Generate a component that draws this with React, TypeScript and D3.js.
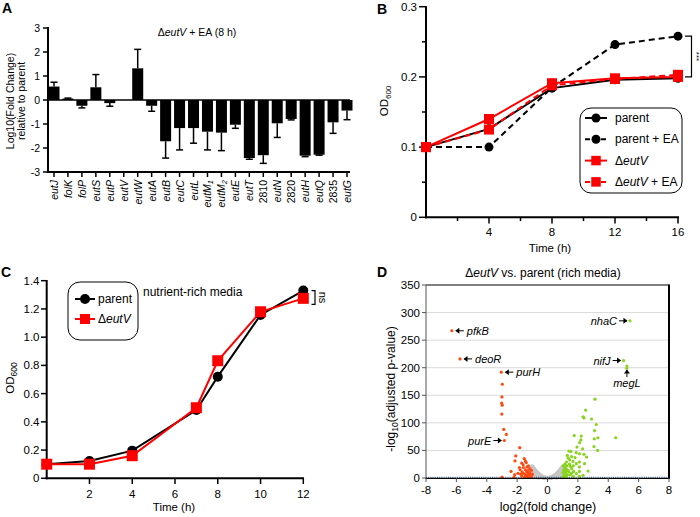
import React from 'react';
import * as d3 from 'd3';

const FONT = 'Liberation Sans, Arial, Helvetica, sans-serif';

// ---------- Panel A data ----------
const geneLabels = ['eutJ','folK','folP','eutS','eutP','eutV','eutW','eutA','eutB','eutC','eutL','eutM1','eutM2','eutE','eutT','2810','eutN','2820','eutH','eutQ','2835','eutG'];
const foldChange = [0.56,0.06,-0.24,0.53,-0.13,0,1.32,-0.24,-1.72,-1.17,-1.17,-1.32,-1.36,-1.03,-2.42,-2.3,-0.97,-0.79,-2.32,-2.28,-0.93,-0.44];
const foldErr = [0.18,0.02,0.09,0.53,0.13,0,0.79,0.23,0.7,0.91,0.63,0.76,0.75,0.15,0.05,0.34,0.59,0.04,0.04,0.02,0.46,0.38];
const yTicksA = [-3,-2,-1,0,1,2,3];

// ---------- Panel B data ----------
const timeB = [0,4,8,12,16];
const parentB = [0.1,0.126,0.184,0.196,0.198];
const parentEAB = [0.1,0.1,0.185,0.246,0.258];
const eutVB = [0.1,0.14,0.191,0.198,0.2];
const eutVEAB = [0.1,0.125,0.188,0.197,0.203];
const yTicksB = [0,0.1,0.2,0.3];
const yMinorB = [0.05,0.15,0.25];
const xTicksB = [4,8,12,16];
const xMinorB = [2,6,10,14];

// ---------- Panel C data ----------
const timeC = [0,2,4,7,8,10,12];
const parentC = [0.1,0.123,0.196,0.484,0.72,1.157,1.33];
const eutVC = [0.1,0.1,0.16,0.5,0.833,1.18,1.275];
const yTicksC = [0,0.2,0.4,0.6,0.8,1.0,1.2,1.4];
const xTicksC = [2,4,6,8,10,12];

// ---------- Panel D data ----------
const xTicksD = [-8,-6,-4,-2,0,2,4,6,8];
const yTicksD = [0,50,100,150,200,250,300,350];
const grayPts: [number, number][] = [
  [-1.25,12],[-1.2,16],[-1.15,18],[-1.1,20],[-1.05,19],[-1.0,21],[-0.95,18],[-0.9,17],[-0.85,15],[-0.8,13],
  [-0.75,12],[-0.7,10],[-0.65,9],[-0.6,7.5],[-0.55,6],[-0.5,5],[-0.45,4],[-0.4,3],[-0.35,2.2],[-0.3,1.6],
  [-0.25,1],[-0.2,0.6],[-0.15,0.3],[-0.1,0.1],[-1.1,12],[-1.0,14],[-0.9,10],[-0.8,8],[-0.7,6],[-0.6,4],
  [-0.5,2.5],[-0.4,1.5],[-1.0,8],[-0.9,5],[-0.8,3],[-0.7,2],[-1.1,5],[-1.2,8],[-1.0,3],[-0.6,1],[-0.9,1.5],[-1.2,3],
  [1.2,14],[1.15,18],[1.1,20],[1.05,19],[1.0,21],[0.95,18],[0.9,17],[0.85,15],[0.8,13],[0.75,12],
  [0.7,10],[0.65,9],[0.6,7.5],[0.55,6],[0.5,5],[0.45,4],[0.4,3],[0.35,2.2],[0.3,1.6],[0.25,1],
  [0.2,0.6],[0.15,0.3],[0.1,0.1],[0.05,0],[1.1,12],[1.0,14],[0.9,10],[0.8,8],[0.7,6],[0.6,4],
  [0.5,2.5],[0.4,1.5],[1.0,8],[0.9,5],[0.8,3],[0.7,2],[1.1,5],[1.0,3],[0.6,1],[0.9,1.5],[1.15,8],[1.15,3],
];
const redPts: [number, number][] = [
  [-6.3,267],[-5.76,216],[-3.04,192],[-2.97,170],[-3.0,147],[-3.02,136],[-2.98,132],[-3.01,116],[-2.88,88],[-2.71,79],
  [-2.84,68],[-1.83,55],[-2.09,40],[-2.14,31],[-1.53,35],[-1.46,31],[-1.4,28],[-1.7,27],[-1.85,19],[-1.59,19],
  [-1.26,22],[-1.17,17],[-1.46,15],[-1.8,15],[-1.67,11],[-1.37,11.5],[-1.06,14],[-1.94,8.5],[-1.57,8],[-1.29,6.5],
  [-1.0,7],[-1.4,3.5],[-1.7,3.5],[-2.16,6],[-1.13,3.5],[-3.0,1.5],[-2.2,1],[-1.2,10],[-1.1,1.5],[-1.5,1.5],
  [-1.3,13],[-1.05,4],[-1.25,2],[-1.35,20],[-1.6,24],[-1.15,8],[-1.45,6],[-1.75,7],[-2.4,12],
];
const greenPts: [number, number][] = [
  [5.43,285],[5.01,213],[5.23,203],[5.22,199],
  [3.13,143],[2.51,123],[2.34,111],[2.4,109],[2.9,107],[3.21,97],[3.1,86],[1.76,77],[2.22,76],[4.49,73],
  [3.32,73],[3.08,71],[2.2,69],[2.12,64],[3.06,57],[3.3,50],[1.94,56],[2.31,53],[1.41,49],[1.54,48],
  [1.89,46],[2.1,44],[2.4,43],[1.59,39],[1.81,37],[1.37,36],[2.57,38],[1.46,33],[1.68,30],[2.1,29],
  [1.25,29],[1.9,26],[2.44,26],[1.28,22],[1.5,21],[1.13,19],[2.1,20],[1.24,16],[1.6,17],[1.07,14],
  [1.4,11],[1.72,12],[2.1,12],[2.67,12.5],[1.1,8],[1.5,6],[1.9,8],[2.34,5],[1.18,3],[1.7,3],
  [2.1,3],[1.04,3],[1.15,25],[1.2,11],[1.05,22],[1.3,6],[1.12,5],[1.35,14],[1.02,10],[1.25,1.5],
  [1.6,9],[1.45,25],[1.3,41],[1.7,22],
];

const arrowHead = (x: number, y: number, dir: 'left' | 'right' | 'up') => {
  const s = 3;
  if (dir === 'left') return `M${x},${y} L${x + s + 1},${y - s} L${x + s + 1},${y + s} Z`;
  if (dir === 'right') return `M${x},${y} L${x - s - 1},${y - s} L${x - s - 1},${y + s} Z`;
  return `M${x},${y} L${x - s},${y + s + 1} L${x + s},${y + s + 1} Z`;
};

const GeneLabel = ({ name }: { name: string }) => {
  const isNum = /^\d+$/.test(name);
  const m = name.match(/^(eutM)(\d)$/);
  if (m) {
    return (
      <>
        <tspan fontStyle="italic">{m[1]}</tspan>
        <tspan fontStyle="italic" fontSize={7.5} dy={3}>{m[2]}</tspan>
      </>
    );
  }
  return <tspan fontStyle={isNum ? 'normal' : 'italic'}>{name}</tspan>;
};

const Marker = ({ kind, x, y, color, size }: { kind: 'circle' | 'square'; x: number; y: number; color: string; size: number }) =>
  kind === 'circle' ? (
    <circle cx={x} cy={y} r={size / 2} fill={color} />
  ) : (
    <rect x={x - size / 2} y={y - size / 2} width={size} height={size} fill={color} />
  );

export default function App() {
  // ===== Panel A =====
  const xA = d3.scalePoint<string>().domain(geneLabels).range([54, 347]);
  const yA = d3.scaleLinear().domain([-3, 3]).range([172, 28]);
  const barW = 11;

  // ===== Panel B =====
  const xB = d3.scaleLinear().domain([0, 16]).range([426, 678]);
  const yB = d3.scaleLinear().domain([0, 0.3]).range([217.3, 6.7]);
  const lineB = (vals: number[]) =>
    d3.line<number>().x((_, i) => xB(timeB[i])).y((v) => yB(v))(vals) as string;
  const seriesB = [
    { name: 'parent', vals: parentB, color: '#000', dash: undefined as string | undefined, kind: 'circle' as const },
    { name: 'parent + EA', vals: parentEAB, color: '#000', dash: '6,4', kind: 'circle' as const },
    { name: 'eutV', vals: eutVB, color: '#ff0000', dash: undefined, kind: 'square' as const },
    { name: 'eutV + EA', vals: eutVEAB, color: '#ff0000', dash: '6,4', kind: 'square' as const },
  ];

  // ===== Panel C =====
  const xC = d3.scaleLinear().domain([0, 12]).range([46.7, 303.3]);
  const yC = d3.scaleLinear().domain([0, 1.4]).range([478.3, 280.7]);
  const lineC = (vals: number[]) =>
    d3.line<number>().x((_, i) => xC(timeC[i])).y((v) => yC(v))(vals) as string;

  // ===== Panel D =====
  const xD = d3.scaleLinear().domain([-8, 8]).range([426, 669]);
  const yD = d3.scaleLinear().domain([0, 350]).range([478, 285]);
  const red = '#ff4a12';
  const green = '#86d41c';

  const pfk = redPts[0], deo = redPts[1], purH = redPts[2], purE = redPts[10];
  const nha = greenPts[0], nif = greenPts[1], meg = greenPts[2];

  return (
    <svg width={700} height={517} style={{ position: 'absolute', left: 0, top: 0, background: '#fff' }} fontFamily={FONT}>
      <rect x={0} y={0} width={700} height={517} fill="#fff" />

      {/* ================= A ================= */}
      <text x={2} y={13} fontSize={14} fontWeight="bold">A</text>
      <text x={197} y={36} fontSize={10.5} textAnchor="middle">
        <tspan>Δ</tspan><tspan fontStyle="italic">eutV</tspan><tspan> + EA (8 h)</tspan>
      </text>
      <g transform="translate(14,101) rotate(-90)">
        <text textAnchor="middle" fontSize={10.5}>Log10(Fold Change)</text>
        <text textAnchor="middle" fontSize={10.5} y={10.5}>relative to parent</text>
      </g>
      {geneLabels.map((g, i) => {
        const v = foldChange[i];
        if (v === 0) return null;
        const cx = xA(g)!;
        const y0 = yA(0), y1 = yA(v);
        const ye = yA(v + Math.sign(v) * foldErr[i]);
        return (
          <g key={g}>
            <rect x={cx - barW / 2} y={Math.min(y0, y1)} width={barW} height={Math.abs(y1 - y0)} fill="#000" />
            <line x1={cx} x2={cx} y1={y1} y2={ye} stroke="#000" strokeWidth={1.5} />
            <line x1={cx - 3.5} x2={cx + 3.5} y1={ye} y2={ye} stroke="#000" strokeWidth={1.5} />
          </g>
        );
      })}
      <line x1={48} x2={350} y1={yA(0)} y2={yA(0)} stroke="#000" strokeWidth={1.5} />
      <line x1={48} x2={48} y1={yA(3) - 1} y2={yA(-3) + 1} stroke="#000" strokeWidth={2} />
      <line x1={47} x2={350} y1={yA(-3)} y2={yA(-3)} stroke="#000" strokeWidth={2} />
      {yTicksA.map((t) => (
        <g key={t}>
          <line x1={43} x2={48} y1={yA(t)} y2={yA(t)} stroke="#000" strokeWidth={1.5} />
          <text x={40} y={yA(t)} fontSize={10.5} textAnchor="end" dominantBaseline="central">{t}</text>
        </g>
      ))}
      {geneLabels.map((g) => (
        <g key={'t' + g}>
          <line x1={xA(g)!} x2={xA(g)!} y1={172} y2={177} stroke="#000" strokeWidth={1.5} />
          <text transform={`translate(${xA(g)!},180) rotate(-90)`} fontSize={10.5} textAnchor="end" dominantBaseline="central">
            <GeneLabel name={g} />
          </text>
        </g>
      ))}

      {/* ================= B ================= */}
      <text x={377} y={14} fontSize={14} fontWeight="bold">B</text>
      {yTicksB.map((t) => (
        <g key={t}>
          <line x1={419} x2={426} y1={yB(t)} y2={yB(t)} stroke="#000" strokeWidth={1.5} />
          <text x={417} y={yB(t)} fontSize={11.5} textAnchor="end" dominantBaseline="central">{t}</text>
        </g>
      ))}
      {yMinorB.map((t) => (
        <line key={t} x1={422} x2={426} y1={yB(t)} y2={yB(t)} stroke="#000" strokeWidth={1.5} />
      ))}
      {xTicksB.map((t) => (
        <g key={t}>
          <line x1={xB(t)} x2={xB(t)} y1={217.3} y2={223.5} stroke="#000" strokeWidth={1.5} />
          <text x={xB(t)} y={236} fontSize={11.5} textAnchor="middle">{t}</text>
        </g>
      ))}
      {xMinorB.map((t) => (
        <line key={t} x1={xB(t)} x2={xB(t)} y1={217.3} y2={221} stroke="#000" strokeWidth={1.5} />
      ))}
      <line x1={426} x2={426} y1={6} y2={218.3} stroke="#000" strokeWidth={2} />
      <line x1={425} x2={679} y1={217.3} y2={217.3} stroke="#000" strokeWidth={2} />
      <text x={550} y={252} fontSize={11.5} textAnchor="middle">Time (h)</text>
      <text transform="translate(388,101) rotate(-90)" fontSize={11.5} textAnchor="middle">
        <tspan>OD</tspan><tspan fontSize={8} dy={3}>600</tspan>
      </text>
      {seriesB.map((s) => (
        <path key={s.name} d={lineB(s.vals)} fill="none" stroke={s.color} strokeWidth={2} strokeDasharray={s.dash} />
      ))}
      {seriesB.map((s) =>
        s.vals.map((v, i) => (
          <Marker key={s.name + i} kind={s.kind} x={xB(timeB[i])} y={yB(v)} color={s.color} size={s.kind === 'circle' ? 9 : 10} />
        ))
      )}
      {/* significance bracket */}
      <path d={`M685,${yB(0.258)} H691.5 V${yB(0.2)} H685`} fill="none" stroke="#000" strokeWidth={1.2} />
      <text transform={`translate(696,${(yB(0.258) + yB(0.2)) / 2}) rotate(90)`} fontSize={8} textAnchor="middle" dominantBaseline="central">***</text>
      {/* legend B */}
      <rect x={580} y={108} width={102} height={85} rx={11} fill="#fff" stroke="#000" strokeWidth={1} />
      {seriesB.map((s, i) => {
        const ly = 118 + i * 21.3;
        return (
          <g key={'lg' + s.name}>
            <line x1={585} x2={607} y1={ly} y2={ly} stroke={s.color} strokeWidth={2} strokeDasharray={s.dash ? '5,3' : undefined} />
            <Marker kind={s.kind} x={596} y={ly} color={s.color} size={s.kind === 'circle' ? 9 : 9.5} />
            <text x={615} y={ly} fontSize={12} dominantBaseline="central">
              {s.name.startsWith('eutV') ? (
                <>
                  <tspan>Δ</tspan><tspan fontStyle="italic">eutV</tspan><tspan>{s.name.slice(4)}</tspan>
                </>
              ) : (
                s.name
              )}
            </text>
          </g>
        );
      })}

      {/* ================= C ================= */}
      <text x={1} y={277} fontSize={14} fontWeight="bold">C</text>
      {yTicksC.map((t) => (
        <g key={t}>
          <line x1={41} x2={46.7} y1={yC(t)} y2={yC(t)} stroke="#000" strokeWidth={1.5} />
          <text x={39.5} y={yC(t)} fontSize={11.5} textAnchor="end" dominantBaseline="central">{t === 0 ? '0' : t.toFixed(1)}</text>
        </g>
      ))}
      {xTicksC.map((t) => (
        <g key={t}>
          <line x1={xC(t)} x2={xC(t)} y1={478.3} y2={484} stroke="#000" strokeWidth={1.5} />
          <text x={xC(t)} y={497.5} fontSize={11.5} textAnchor="middle">{t}</text>
        </g>
      ))}
      <line x1={46.7} x2={46.7} y1={280} y2={479.3} stroke="#000" strokeWidth={2} />
      <line x1={45.7} x2={304} y1={478.3} y2={478.3} stroke="#000" strokeWidth={2} />
      <text x={174} y={511} fontSize={11.5} textAnchor="middle">Time (h)</text>
      <text transform="translate(14,378) rotate(-90)" fontSize={11.5} textAnchor="middle">
        <tspan>OD</tspan><tspan fontSize={8.5} dy={3}>600</tspan>
      </text>
      <path d={lineC(parentC)} fill="none" stroke="#000" strokeWidth={2} />
      <path d={lineC(eutVC)} fill="none" stroke="#ff0000" strokeWidth={2} />
      {parentC.map((v, i) => (
        <Marker key={'pc' + i} kind="circle" x={xC(timeC[i])} y={yC(v)} color="#000" size={10} />
      ))}
      {eutVC.map((v, i) => (
        <Marker key={'ec' + i} kind="square" x={xC(timeC[i])} y={yC(v)} color="#ff0000" size={11} />
      ))}
      <text x={143} y={292} fontSize={12} dominantBaseline="central">nutrient-rich media</text>
      <rect x={68} y={282} width={70} height={58} rx={12} fill="#fff" stroke="#000" strokeWidth={1} />
      <line x1={75} x2={95} y1={299} y2={299} stroke="#000" strokeWidth={2} />
      <Marker kind="circle" x={85} y={299} color="#000" size={10} />
      <text x={98} y={299} fontSize={12} dominantBaseline="central">parent</text>
      <line x1={75} x2={95} y1={319} y2={319} stroke="#ff0000" strokeWidth={2} />
      <Marker kind="square" x={85} y={319} color="#ff0000" size={10} />
      <text x={98} y={319} fontSize={12} dominantBaseline="central">
        <tspan>Δ</tspan><tspan fontStyle="italic">eutV</tspan>
      </text>
      <path d={`M311.5,${yC(1.33)} H315 V${yC(1.275) + 6} H311.5`} fill="none" stroke="#000" strokeWidth={1.2} />
      <text transform={`translate(323,${(yC(1.33) + yC(1.275) + 6) / 2}) rotate(90)`} fontSize={11} textAnchor="middle" dominantBaseline="central">ns</text>

      {/* ================= D ================= */}
      <text x={377} y={277} fontSize={14} fontWeight="bold">D</text>
      <text x={543} y={277} fontSize={12} textAnchor="middle">
        <tspan>Δ</tspan><tspan fontStyle="italic">eutV</tspan><tspan> vs. parent (rich media)</tspan>
      </text>
      {yTicksD.filter((t) => t > 0 && t < 350).map((t) => (
        <line key={'g' + t} x1={426} x2={669} y1={yD(t)} y2={yD(t)} stroke="#dadada" strokeWidth={1} />
      ))}
      {grayPts.map(([x, y], i) => (
        <circle key={'gp' + i} cx={xD(x)} cy={yD(y)} r={2.2} fill="#c6c6c6" />
      ))}
      <line x1={426} x2={669} y1={yD(1.3)} y2={yD(1.3)} stroke="#2a5a9a" strokeWidth={1} strokeDasharray="1,1.2" />
      {redPts.map(([x, y], i) => (
        <circle key={'rp' + i} cx={xD(x)} cy={yD(y)} r={1.6} fill={red} />
      ))}
      {greenPts.map(([x, y], i) => (
        <circle key={'gr' + i} cx={xD(x)} cy={yD(y)} r={1.6} fill={green} />
      ))}
      <line x1={426} x2={669} y1={285} y2={285} stroke="#000" strokeWidth={1} />
      <line x1={669} x2={669} y1={284.5} y2={478.5} stroke="#000" strokeWidth={2} />
      <line x1={426} x2={426} y1={285} y2={478} stroke="#555" strokeWidth={1} />
      <line x1={425.5} x2={670} y1={478.3} y2={478.3} stroke="#000" strokeWidth={1.2} />
      {yTicksD.map((t) => (
        <g key={'yd' + t}>
          <line x1={422} x2={426} y1={yD(t)} y2={yD(t)} stroke="#555" strokeWidth={1} />
          <text x={420} y={yD(t)} fontSize={11.5} textAnchor="end" dominantBaseline="central">{t}</text>
        </g>
      ))}
      {xTicksD.map((t) => (
        <g key={'xd' + t}>
          <line x1={xD(t)} x2={xD(t)} y1={478} y2={482} stroke="#555" strokeWidth={1} />
          <text x={xD(t)} y={494} fontSize={11.5} textAnchor="middle">{t}</text>
        </g>
      ))}
      <text x={548} y={511} fontSize={12.5} textAnchor="middle">log2(fold change)</text>
      <text transform="translate(395,389) rotate(-90)" fontSize={12} textAnchor="middle">
        <tspan>-log</tspan><tspan fontSize={8.5} dy={3}>10</tspan><tspan dy={-3}>(adjusted p-value)</tspan>
      </text>

      {/* annotations left (arrows pointing left) */}
      {[
        { p: pfk, name: 'pfkB' },
        { p: deo, name: 'deoR' },
        { p: purH, name: 'purH' },
      ].map(({ p, name }) => {
        const px = xD(p[0]), py = yD(p[1]);
        return (
          <g key={name}>
            <line x1={px + 4} x2={px + 12} y1={py} y2={py} stroke="#000" strokeWidth={1} />
            <path d={arrowHead(px + 3.5, py, 'left')} fill="#000" />
            <text x={px + 15} y={py} fontSize={11} fontStyle="italic" dominantBaseline="central">{name}</text>
          </g>
        );
      })}
      {/* annotations right-pointing */}
      {[
        { p: purE, name: 'purE' },
        { p: nha, name: 'nhaC' },
        { p: nif, name: 'nifJ' },
      ].map(({ p, name }) => {
        const px = xD(p[0]), py = yD(p[1]);
        return (
          <g key={name}>
            <line x1={px - 11} x2={px - 3} y1={py} y2={py} stroke="#000" strokeWidth={1} />
            <path d={arrowHead(px - 2.5, py, 'right')} fill="#000" />
            <text x={px - 13} y={py} fontSize={11} fontStyle="italic" textAnchor="end" dominantBaseline="central">{name}</text>
          </g>
        );
      })}
      {(() => {
        const px = xD(meg[0]), py = yD(meg[1]);
        return (
          <g>
            <line x1={px} x2={px} y1={py + 4} y2={py + 11} stroke="#000" strokeWidth={1} />
            <path d={arrowHead(px, py + 3.5, 'up')} fill="#000" />
            <text x={px} y={py + 21} fontSize={11} fontStyle="italic" textAnchor="middle">megL</text>
          </g>
        );
      })()}
    </svg>
  );
}
